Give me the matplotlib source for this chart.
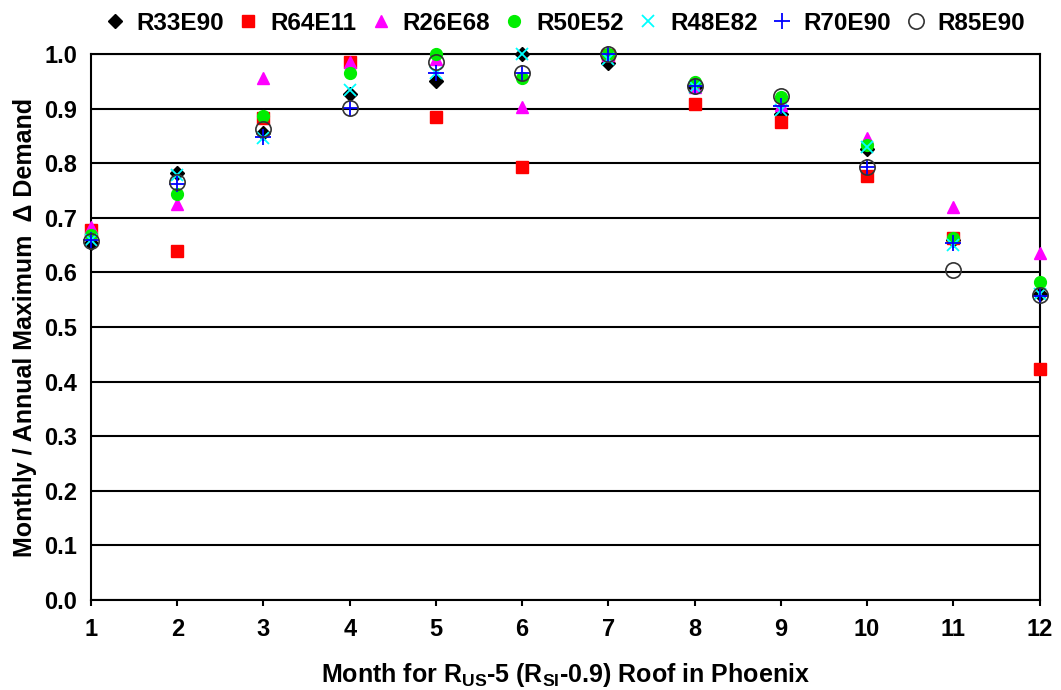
import matplotlib
matplotlib.use("Agg")
import matplotlib.pyplot as plt

plt.rcParams['font.family'] = ['Liberation Sans', 'DejaVu Sans']
plt.rcParams['font.weight'] = 'bold'
plt.rcParams['mathtext.fontset'] = 'custom'
plt.rcParams['mathtext.bf'] = 'Liberation Sans:bold'
plt.rcParams['mathtext.rm'] = 'Liberation Sans:bold'
plt.rcParams['mathtext.default'] = 'bf'

months = [1, 2, 3, 4, 5, 6, 7, 8, 9, 10, 11, 12]

r33e90 = [0.654, 0.782, 0.855, 0.927, 0.951, 1.000, 0.983, 0.940, 0.891, 0.826, 0.660, 0.560]
r64e11 = [0.678, 0.639, 0.882, 0.985, 0.885, 0.793, 0.998, 0.908, 0.875, 0.777, 0.663, 0.424]
r26e68 = [0.683, 0.725, 0.956, 0.986, 0.990, 0.903, 0.998, 0.940, 0.907, 0.846, 0.720, 0.636]
r50e52 = [0.668, 0.743, 0.886, 0.966, 1.000, 0.956, 1.000, 0.949, 0.921, 0.833, 0.663, 0.582]
r48e82 = [0.660, 0.778, 0.846, 0.934, 0.965, 1.000, 0.990, 0.940, 0.897, 0.830, 0.650, 0.560]
r70e90 = [0.660, 0.762, 0.848, 0.902, 0.965, 0.965, 1.000, 0.941, 0.905, 0.793, 0.654, 0.556]
r85e90 = [0.657, 0.766, 0.862, 0.902, 0.985, 0.965, 1.000, 0.941, 0.923, 0.793, 0.604, 0.559]

fig = plt.figure(figsize=(10.61, 6.9), dpi=100)
ax = fig.add_axes([0.0858, 0.1304, 0.894, 0.7913])

# series: values, marker, style
ax.plot(months, r33e90, 'D', color='black', markersize=7, label='R33E90', clip_on=False, zorder=3)
ax.plot(months, r64e11, 's', color='#ff0000', markersize=8.5, label='R64E11', clip_on=False, zorder=3)
ax.plot(months, r26e68, '^', color='#ff00ff', markersize=9, label='R26E68', clip_on=False, zorder=3)
ax.plot(months, r50e52, 'o', color='#00ee00', markersize=8.5, label='R50E52', clip_on=False, zorder=3)
ax.plot(months, r48e82, 'x', color='#00ffff', markersize=9, markeredgewidth=1.3, label='R48E82', clip_on=False, zorder=3)
ax.plot(months, r70e90, '+', color='#0000ff', markersize=11, markeredgewidth=1.3, label='R70E90', clip_on=False, zorder=3)
ax.plot(months, r85e90, 'o', markerfacecolor='none', markeredgecolor='#333333', markersize=11,
        markeredgewidth=1.2, label='R85E90', clip_on=False, zorder=3)

ax.set_xlim(1, 12)
ax.set_ylim(0, 1.0)
ax.set_xticks(months)
ax.set_yticks([i / 10 for i in range(11)])
ax.set_yticklabels(['%.1f' % (i / 10) for i in range(11)])
ax.yaxis.grid(True, color='black', linewidth=1.5)
ax.set_axisbelow(True)
for s in ax.spines.values():
    s.set_linewidth(1.5)
ax.tick_params(axis='x', labelsize=17, width=1.5, length=4, pad=9)
ax.tick_params(axis='y', labelsize=17, width=1.5, length=0, pad=10)

ax.set_xlabel('Month for R$_{US}$-5 (R$_{SI}$-0.9) Roof in Phoenix', fontsize=18, fontweight='bold', labelpad=14)
ax.set_ylabel('Monthly / Annual Maximum  \u0394 Demand', fontsize=18, fontweight='bold', labelpad=5)

fig.legend(loc='upper center', bbox_to_anchor=(0.532, 1.015), ncol=7, frameon=False,
           fontsize=17.5, handletextpad=0.45, columnspacing=0.55, handlelength=0.9, numpoints=1)

fig.savefig('out.png', dpi=100)
